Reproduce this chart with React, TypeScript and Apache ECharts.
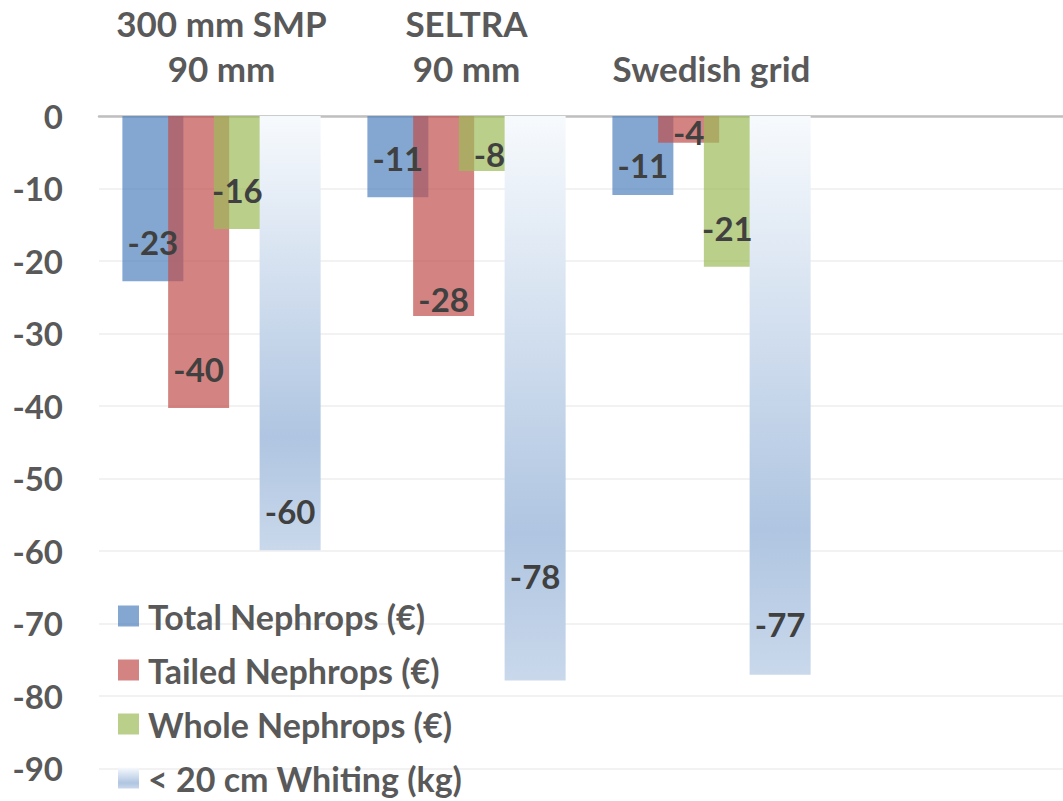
import React, { useEffect, useRef } from "react";
import * as echarts from "echarts";

const categories = ["300 mm SMP\n90 mm", "SELTRA\n90 mm", "Swedish grid", ""];
const seriesNames = [
  "Total Nephrops (€)",
  "Tailed Nephrops (€)",
  "Whole Nephrops (€)",
  "< 20 cm Whiting (kg)",
];
const totalNephrops = [-22.8, -11.2, -10.9];
const tailedNephrops = [-40.3, -27.6, -3.7];
const wholeNephrops = [-15.6, -7.6, -20.8];
const whiting = [-59.9, -77.9, -77.1];
const yTicks = { min: -90, max: 0, interval: 10 };

// label placement tweaks (style, not data)
const labelTweaks: Record<string, { distance?: number; dx?: number }> = {
  "0-2": { distance: 14 },
  "1-1": { distance: 1 },
  "2-0": { dx: -7 },
  "2-1": { distance: 1 },
  "1-2": { distance: -5 },
  "2-2": { dx: -7 },
  "3-1": { distance: 89 },
  "3-2": { distance: 35 },
};

const FONT = "Lato";

export default function App() {
  const ref = useRef<HTMLDivElement>(null);
  useEffect(() => {
    if (!ref.current) return;
    const chart = echarts.init(ref.current, undefined, { renderer: "svg" });
    const values = [totalNephrops, tailedNephrops, wholeNephrops, whiting];
    const colors: any[] = [
      "rgba(79,129,189,0.7)",
      "rgba(192,80,77,0.7)",
      "rgba(155,187,89,0.7)",
      new echarts.graphic.LinearGradient(0, 0, 0, 1, [
        { offset: 0, color: "#f7fafd" },
        { offset: 0.74, color: "#afc5e1" },
        { offset: 1, color: "#c9d8eb" },
      ]),
    ];
    const series = values.map((arr, si) => ({
      name: seriesNames[si],
      type: "bar",
      barWidth: 61,
      barGap: "-25%",
      itemStyle: { color: colors[si] },
      emphasis: { disabled: true },
      label: {
        show: true,
        position: "insideBottom",
        distance: 23,
        fontFamily: FONT,
        fontWeight: "bold",
        fontSize: 33,
        lineHeight: 32,
        color: "#404040",
        formatter: (p: any) => Number(p.value).toFixed(0),
      },
      data: arr.map((v, di) => {
        const t = labelTweaks[`${si}-${di}`];
        if (!t) return v;
        return {
          value: v,
          label: {
            distance: t.distance ?? 23,
            offset: [t.dx ?? 0, 0],
          },
        };
      }),
    }));
    chart.setOption({
      animation: false,
      grid: { left: 99, top: 116, width: 980, bottom: 32.7 },
      legend: {
        orient: "vertical",
        left: 118,
        top: 599,
        height: 202,
        padding: 0,
        itemWidth: 21,
        itemHeight: 21,
        itemGap: 20,
        icon: "rect",
        selectedMode: false,
        textStyle: {
          fontFamily: FONT,
          fontWeight: "bold",
          fontSize: 34,
          color: "#595959",
          padding: [0, 0, 0, 4],
        },
        data: seriesNames,
      },
      xAxis: {
        type: "category",
        position: "top",
        data: categories,
        axisLine: { onZero: false, lineStyle: { color: "#bfbfbf", width: 2.5 } },
        axisTick: { show: false },
        axisLabel: {
          margin: 26,
          interval: 0,
          fontFamily: FONT,
          fontWeight: "bold",
          fontSize: 35,
          lineHeight: 45,
          color: "#595959",
        },
      },
      yAxis: {
        type: "value",
        min: yTicks.min,
        max: yTicks.max,
        interval: yTicks.interval,
        axisLine: { show: false },
        axisTick: { show: false },
        splitLine: { lineStyle: { color: "#eeeeee", width: 1.5 } },
        axisLabel: {
          margin: 36,
          fontFamily: FONT,
          fontWeight: "bold",
          fontSize: 33,
          color: "#595959",
        },
      },
      series,
    });
    return () => chart.dispose();
  }, []);
  return (
    <div
      style={{
        position: "absolute",
        left: 0,
        top: 0,
        width: 1063,
        height: 801,
        overflow: "hidden",
      }}
    >
      <div ref={ref} style={{ width: 1080, height: 801 }} />
    </div>
  );
}
